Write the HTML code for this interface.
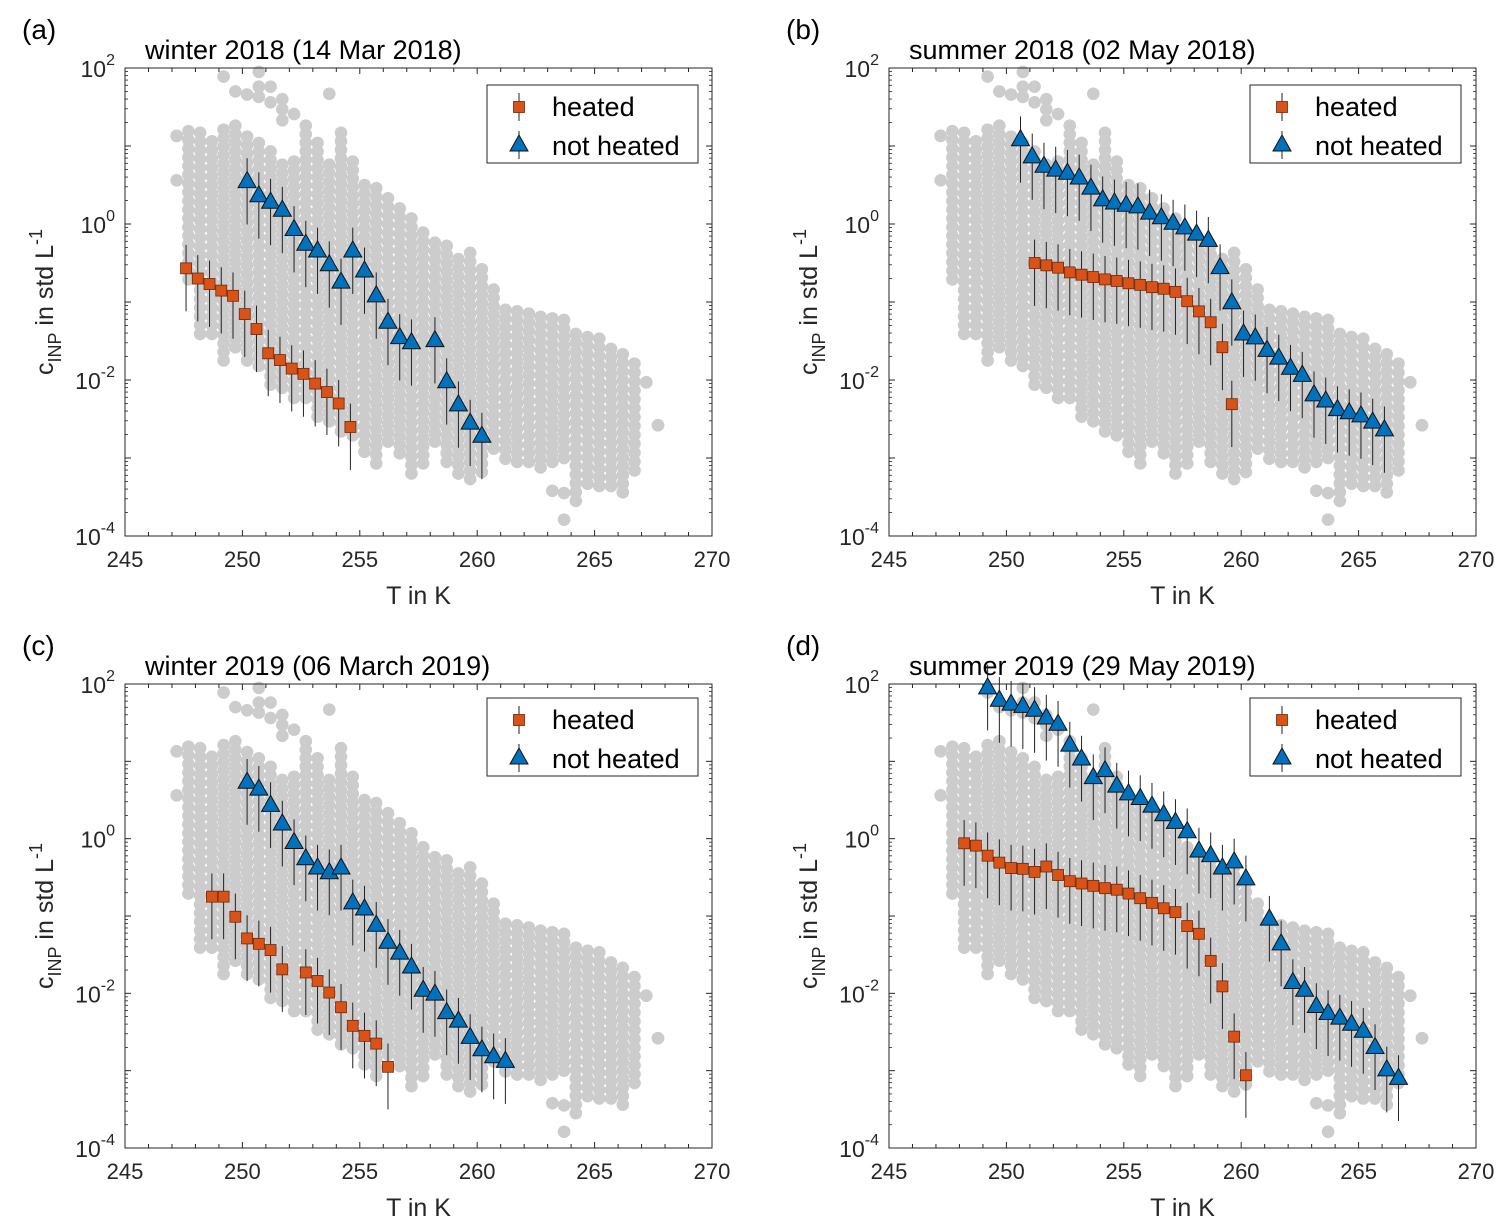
<!DOCTYPE html>
<html><head><meta charset="utf-8">
<style>
body{margin:0;background:#fff;}
svg{display:block;font-family:"Liberation Sans",Arial,sans-serif;}
</style></head>
<body>
<svg id="chart" width="1511" height="1231" viewBox="0 0 1511 1231"></svg>
<script>
// ---- background gray cloud: columns every 0.5 K from 247.2 K, top/bottom log10 ----
const colStart = 247.2;
const colTop = [1.13,1.19,1.17,1.06,1.21,1.26,1.12,1.04,0.93,0.76,0.80,1.26,1.04,0.76,1.17,0.80,0.50,0.46,0.33,0.20,0.07,-0.11,-0.24,-0.28,-0.45,-0.37,-0.58,-0.84,-1.10,-1.12,-1.15,-1.19,-1.21,-1.23,-1.41,-1.45,-1.47,-1.60,-1.67,-1.79,-2.03,-2.58];
const colBot = [1.13,-0.71,-1.41,-1.41,-1.75,-1.58,-1.75,-1.82,-2.06,-2.10,-2.23,-2.23,-2.47,-2.53,-2.66,-2.71,-2.92,-3.07,-2.79,-2.94,-3.20,-3.07,-2.79,-3.05,-3.20,-3.27,-3.18,-2.88,-3.01,-3.05,-3.05,-3.12,-3.05,-3.00,-3.55,-3.33,-3.36,-3.36,-3.44,-3.16,-2.03,-2.58];
const outT = [247.2,249.2,249.7,250.2,250.7,250.7,250.7,251.2,251.2,251.7,251.7,251.7,252.2,253.7,263.2,263.7,263.7];
const outL = [0.56,1.89,1.70,1.66,1.95,1.76,1.63,1.76,1.56,1.60,1.47,1.33,1.41,1.67,-3.42,-3.45,-3.79];
// ---- panel (a) ----
const aHeatT = [247.6,248.1,248.6,249.1,249.6,250.1,250.6,251.1,251.6,252.1,252.6,253.1,253.6,254.1,254.6];
const aHeatV = [0.27,0.2,0.17,0.14,0.12,0.07,0.045,0.022,0.018,0.014,0.012,0.009,0.007,0.005,0.0025];
const aNotT = [250.2,250.7,251.2,251.7,252.2,252.7,253.2,253.7,254.2,254.7,255.2,255.7,256.2,256.7,257.2,258.2,258.7,259.2,259.7,260.2];
const aNotV = [3.5,2.3,1.9,1.5,0.85,0.55,0.45,0.3,0.18,0.45,0.25,0.12,0.055,0.035,0.03,0.032,0.0095,0.0048,0.0028,0.0019];
// ---- panel (b) (log10 values) ----
const bHeatT = [251.2,251.7,252.2,252.7,253.2,253.7,254.2,254.7,255.2,255.7,256.2,256.7,257.2,257.7,258.2,258.7,259.2,259.6];
const bHeatL = [-0.50,-0.53,-0.56,-0.62,-0.65,-0.68,-0.71,-0.73,-0.76,-0.78,-0.81,-0.83,-0.87,-0.99,-1.12,-1.26,-1.58,-2.31];
const bNotT = [250.6,251.1,251.6,252.1,252.6,253.1,253.6,254.1,254.6,255.1,255.6,256.1,256.6,257.1,257.6,258.1,258.6,259.1,259.6,260.1,260.6,261.1,261.6,262.1,262.6,263.1,263.6,264.1,264.6,265.1,265.6,266.1];
const bNotL = [1.08,0.86,0.74,0.69,0.65,0.59,0.46,0.31,0.27,0.24,0.22,0.14,0.08,0.01,-0.05,-0.13,-0.21,-0.56,-1.01,-1.41,-1.46,-1.62,-1.72,-1.85,-1.94,-2.19,-2.27,-2.38,-2.42,-2.46,-2.54,-2.64];
// ---- panel (c) ----
const cHeatT = [248.7,249.2,249.7,250.2,250.7,251.2,251.7,252.7,253.2,253.7,254.2,254.7,255.2,255.7,256.2];
const cHeatL = [-0.75,-0.75,-1.01,-1.29,-1.36,-1.44,-1.69,-1.73,-1.84,-1.99,-2.18,-2.42,-2.55,-2.65,-2.95];
const cNotT = [250.2,250.7,251.2,251.7,252.2,252.7,253.2,253.7,254.2,254.7,255.2,255.7,256.2,256.7,257.2,257.7,258.2,258.7,259.2,259.7,260.2,260.7,261.2];
const cNotL = [0.73,0.64,0.43,0.19,-0.05,-0.26,-0.38,-0.44,-0.38,-0.83,-0.91,-1.12,-1.34,-1.48,-1.66,-1.96,-2.01,-2.25,-2.36,-2.57,-2.73,-2.82,-2.88];
// ---- panel (d) ----
const dHeatT = [248.2,248.7,249.2,249.7,250.2,250.7,251.2,251.7,252.2,252.7,253.2,253.7,254.2,254.7,255.2,255.7,256.2,256.7,257.2,257.7,258.2,258.7,259.2,259.7,260.2];
const dHeatL = [-0.06,-0.09,-0.22,-0.31,-0.38,-0.39,-0.43,-0.36,-0.47,-0.55,-0.58,-0.61,-0.64,-0.66,-0.71,-0.77,-0.83,-0.90,-0.95,-1.13,-1.23,-1.58,-1.91,-2.56,-3.06];
const dNotT = [249.2,249.7,250.2,250.7,251.2,251.7,252.2,252.7,253.2,253.7,254.2,254.7,255.2,255.7,256.2,256.7,257.2,257.7,258.2,258.7,259.2,259.7,260.2,261.2,261.7,262.2,262.7,263.2,263.7,264.2,264.7,265.2,265.7,266.2,266.7];
const dNotL = [1.95,1.79,1.74,1.71,1.66,1.56,1.48,1.21,1.03,0.79,0.88,0.68,0.58,0.52,0.42,0.31,0.21,0.09,-0.16,-0.22,-0.38,-0.30,-0.52,-1.04,-1.36,-1.86,-1.96,-2.17,-2.26,-2.32,-2.40,-2.49,-2.70,-2.99,-3.10];
const errDown = 0.55, errUp = 0.3; // decades
const xTicks = [245,250,255,260,265,270];
const yTicks = [-4,-2,0,2];
const titles = ["winter 2018 (14 Mar 2018)","summer 2018 (02 May 2018)","winter 2019 (06 March 2019)","summer 2019 (29 May 2019)"];
const letters = ["(a)","(b)","(c)","(d)"];

const NS="http://www.w3.org/2000/svg";
const svg=document.getElementById('chart');
function el(tag,attrs,parent){const e=document.createElementNS(NS,tag);for(const k in attrs)e.setAttribute(k,attrs[k]);(parent||svg).appendChild(e);return e;}
const lg=v=>Math.log10(v);

const panels=[
 {x0:125,x1:712,yT:68,yB:536,ht:aHeatT,hl:aHeatV.map(lg),nt:aNotT,nl:aNotV.map(lg),lx:487,ly:85},
 {x0:889,x1:1476,yT:68,yB:536,ht:bHeatT,hl:bHeatL,nt:bNotT,nl:bNotL,lx:1250,ly:85},
 {x0:125,x1:712,yT:684,yB:1148,ht:cHeatT,hl:cHeatL,nt:cNotT,nl:cNotL,lx:487,ly:698},
 {x0:889,x1:1476,yT:684,yB:1148,ht:dHeatT,hl:dHeatL,nt:dNotT,nl:dNotL,lx:1250,ly:698}
];

function square(g,x,y){const s=el('rect',{x:x-5.5,y:y-5.5,width:11,height:11,fill:'#D95319',stroke:'#6b2a0c','stroke-width':0.8},g);
 }
function tri(g,x,y){const t=el('polygon',{points:`${x},${y-10} ${x-9},${y+6} ${x+9},${y+6}`,fill:'#0072BD',stroke:'#111','stroke-width':1},g);
 }

panels.forEach((p,i)=>{
 const g=el('g',{});
 
 
 const X=t=>p.x0+(t-245)/25*(p.x1-p.x0);
 const Y=l=>p.yB-(l+4)/6*(p.yB-p.yT);
 // gray cloud
 const cg=el('g',{fill:'#cccccc'},g);
 
 
 colTop.forEach((top,k)=>{
  const bot=colBot[k], n=Math.max(1,Math.round((top-bot)/0.11));
  for(let m=0;m<=n;m++){
   const v = top-(top-bot)*m/n;
   const c=el('circle',{cx:X(colStart+0.5*k),cy:Y(v),r:6.3},cg);
   
  }
 });
 outT.forEach((t,k)=>{const c=el('circle',{cx:X(t),cy:Y(outL[k]),r:6.3},cg);});
 // axes
 const ax=el('rect',{x:p.x0,y:p.yT,width:p.x1-p.x0,height:p.yB-p.yT,fill:'none',stroke:'#262626','stroke-width':1},g);
 
 for(let t=245;t<=270;t++){
  const L=(t%5===0)?6:4;
  el('line',{x1:X(t),x2:X(t),y1:p.yB,y2:p.yB-L,stroke:'#262626'},g);
  el('line',{x1:X(t),x2:X(t),y1:p.yT,y2:p.yT+L,stroke:'#262626'},g);
 }
 xTicks.forEach(t=>{
  const tx=el('text',{x:X(t),y:p.yB+31,'font-size':22,'text-anchor':'middle',fill:'#262626'},g);
  tx.textContent=t;
 });
 for(let d=-4;d<=2;d++){
  el('line',{x1:p.x0,x2:p.x0+6,y1:Y(d),y2:Y(d),stroke:'#262626'},g);
  el('line',{x1:p.x1,x2:p.x1-6,y1:Y(d),y2:Y(d),stroke:'#262626'},g);
  if(d<2) for(let m=2;m<=9;m++){
   const yy=Y(d+Math.log10(m));
   el('line',{x1:p.x0,x2:p.x0+3,y1:yy,y2:yy,stroke:'#262626','stroke-width':0.8},g);
   el('line',{x1:p.x1,x2:p.x1-3,y1:yy,y2:yy,stroke:'#262626','stroke-width':0.8},g);
  }
 }
 yTicks.forEach(d=>{
  const tx=el('text',{x:p.x0-10,y:Y(d)+9,'font-size':23,'text-anchor':'end',fill:'#262626'},g);
  
  tx.innerHTML='10<tspan dy="-12" font-size="16">'+d+'</tspan>';
 });
 const xl=el('text',{x:(p.x0+p.x1)/2,y:p.yB+68,'font-size':25,'text-anchor':'middle',fill:'#262626'},g);
 xl.textContent='T in K';
 const cy=(p.yT+p.yB)/2;
 const yl=el('text',{x:0,y:0,'font-size':25,'text-anchor':'middle',fill:'#262626',transform:`translate(${p.x0-72},${cy}) rotate(-90)`},g);
 
 yl.innerHTML='c<tspan dy="8" font-size="18">INP</tspan><tspan dy="-8"> in std L</tspan><tspan dy="-11" font-size="18">-1</tspan>';
 const ti=el('text',{x:p.x0+20,y:p.yT-9,'font-size':27,fill:'#000'},g);
 ti.textContent=titles[i];
 const le=el('text',{x:p.x0-103,y:p.yT-29,'font-size':28,fill:'#000'},g);
 le.textContent=letters[i];
 // error bars + markers
 const eg=el('g',{stroke:'#222','stroke-width':1},g);
 
 p.ht.forEach((t,j)=>el('line',{x1:X(t),x2:X(t),y1:Y(p.hl[j]+errUp),y2:Y(p.hl[j]-errDown)},eg));
 p.nt.forEach((t,j)=>el('line',{x1:X(t),x2:X(t),y1:Y(p.nl[j]+errUp),y2:Y(p.nl[j]-errDown)},eg));
 p.nt.forEach((t,j)=>tri(g,X(t),Y(p.nl[j])));
 p.ht.forEach((t,j)=>square(g,X(t),Y(p.hl[j])));
 // legend
 const L=el('g',{},g);
 
 el('rect',{x:p.lx,y:p.ly,width:211,height:78,fill:'#fff',stroke:'#262626'},L);
 el('line',{x1:p.lx+32,x2:p.lx+32,y1:p.ly+8,y2:p.ly+36,stroke:'#222'},L);
 square(L,p.lx+32,p.ly+22);
 el('line',{x1:p.lx+32,x2:p.lx+32,y1:p.ly+46,y2:p.ly+74,stroke:'#222'},L);
 tri(L,p.lx+32,p.ly+60);
 const t1=el('text',{x:p.lx+65,y:p.ly+31,'font-size':27,fill:'#000'},L);t1.textContent='heated';
 
 const t2=el('text',{x:p.lx+65,y:p.ly+70,'font-size':27,fill:'#000'},L);t2.textContent='not heated';
 
});
</script>
</body></html>
